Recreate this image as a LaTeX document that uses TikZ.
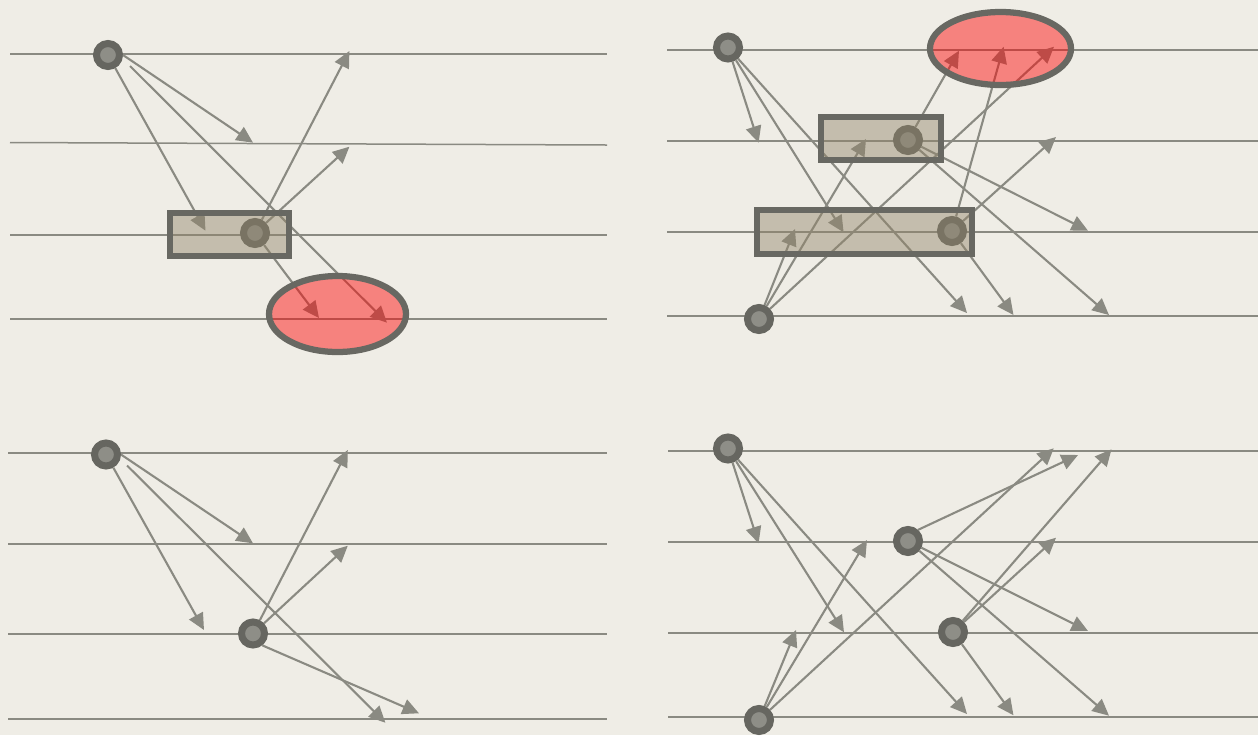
\documentclass[tikz,border=0pt]{standalone}
\usepackage{xcolor}
\usepackage{tikz}
\usetikzlibrary{arrows.meta, shapes.geometric, calc}

\definecolor{paper}{RGB}{239,237,230}
\definecolor{wire}{RGB}{138,138,130}
\definecolor{ring}{RGB}{102,102,96}
\definecolor{dot}{RGB}{142,142,135}
\definecolor{frame}{RGB}{104,104,98}
\definecolor{sand}{RGB}{145,132,104}

\tikzset{
    proc/.style={line width=0.42mm, wire},
    msg/.style={line width=0.42mm, wire, -{Triangle[length=3.3mm, width=3.1mm]}},
    event/.style={circle, draw=ring, fill=dot, line width=1.4mm, minimum size=4.6mm, inner sep=0pt},
    cut/.style={rectangle, draw=frame, fill=sand, fill opacity=0.45, line width=1.2mm, inner sep=0pt},
    fault/.style={ellipse, draw=frame, fill=red, fill opacity=0.45, line width=1.25mm, inner sep=0pt},
}

\begin{document}
\begin{tikzpicture}[x=0.2mm, y=-0.2mm]

    % 1. Paper
    \fill[paper] (0,0) rectangle (1258,735);
    \useasboundingbox (0,0) rectangle (1258,735);

    % 2. Process lines (four per panel)
    \draw[proc] (10,54) -- (607,54);
    \draw[proc, line width=0.3mm] (10,142.5) -- (607,145);
    \draw[proc] (10,235) -- (607,235);
    \draw[proc] (10,319) -- (607,319);

    \draw[proc] (667,50) -- (1258,50);
    \draw[proc] (667,141) -- (1258,141);
    \draw[proc] (667,232) -- (1258,232);
    \draw[proc] (667,316) -- (1258,316);

    \draw[proc] (8,453) -- (607,453);
    \draw[proc] (8,544) -- (607,544);
    \draw[proc] (8,634) -- (607,634);
    \draw[proc] (8,719) -- (607,719);

    \draw[proc] (668,451) -- (1258,451);
    \draw[proc] (668,542) -- (1258,542);
    \draw[proc] (668,633) -- (1258,633);
    \draw[proc] (668,717) -- (1258,717);

    % 3. Events
    \node[event] (a) at (108,55) {};
    \node[event] (b) at (255,233) {};

    \node[event] (c) at (728,47.5) {};
    \node[event] (d) at (908,140) {};
    \node[event] (e) at (952,231) {};
    \node[event] (f) at (759,319) {};

    \node[event] (g) at (106,454.5) {};
    \node[event] (h) at (253,633.5) {};

    \node[event] (i) at (728,448.5) {};
    \node[event] (j) at (908,541) {};
    \node[event] (k) at (953,632) {};
    \node[event] (l) at (759,720) {};

    % 4. Message receive points
    \coordinate (a1) at (253,142.7);
    \coordinate (a2) at (205.5,230.7);
    \coordinate (a3) at (387,322.7);
    \coordinate (b1) at (349.4,51);
    \coordinate (b2) at (349.4,146.7);
    \coordinate (b3) at (319,318);

    \coordinate (c1) at (758.6,142.7);
    \coordinate (c2) at (843.6,232.3);
    \coordinate (c3) at (967,313);
    \coordinate (d1) at (959,50.7);
    \coordinate (d2) at (1088,230.7);
    \coordinate (d3) at (1109,315);
    \coordinate (e1) at (1003.6,46.7);
    \coordinate (e2) at (1056,137);
    \coordinate (e3) at (1013.5,315);
    \coordinate (f1) at (795,229);
    \coordinate (f2) at (866,139);
    \coordinate (f3) at (1054,46.7);

    \coordinate (g1) at (253,543.3);
    \coordinate (g2) at (204,630);
    \coordinate (g3) at (385.4,722.7);
    \coordinate (h1) at (347.8,450);
    \coordinate (h2) at (347.8,545.7);
    \coordinate (h3) at (419,713.3);

    \coordinate (i1) at (758.6,543.3);
    \coordinate (i2) at (844,632.3);
    \coordinate (i3) at (967,714);
    \coordinate (j1) at (1078,455);
    \coordinate (j2) at (1088,631);
    \coordinate (j3) at (1109,715.7);
    \coordinate (k1) at (1111.5,449.3);
    \coordinate (k2) at (1056,537.7);
    \coordinate (k3) at (1013.5,715.3);
    \coordinate (l1) at (796,630);
    \coordinate (l2) at (867,540);
    \coordinate (l3) at (1053.8,448.3);

    % 5. Messages
    \draw[msg] (a.east) -- (a1);
    \draw[msg] (a) -- (a2);
    \draw[msg] ($(a)+(22,11)$) -- (a3);
    \draw[msg] (b) -- (b1);
    \draw[msg] (b) -- (b2);
    \draw[msg] (b) -- (b3);

    \draw[msg] (c) -- (c1);
    \draw[msg] (c) -- (c2);
    \draw[msg] (c) -- (c3);
    \draw[msg] (d) -- (d1);
    \draw[msg] (d) -- (d2);
    \draw[msg] (d) -- (d3);
    \draw[msg] (e) -- (e1);
    \draw[msg] (e) -- (e2);
    \draw[msg] (e) -- (e3);
    \draw[msg] (f) -- (f1);
    \draw[msg] (f) -- (f2);
    \draw[msg] (f) -- (f3);

    \draw[msg] (g.east) -- (g1);
    \draw[msg] (g) -- (g2);
    \draw[msg] ($(g)+(21,11)$) -- (g3);
    \draw[msg] (h) -- (h1);
    \draw[msg] (h) -- (h2);
    \draw[msg] (h.-52) -- (h3);

    \draw[msg] (i) -- (i1);
    \draw[msg] (i) -- (i2);
    \draw[msg] (i) -- (i3);
    \draw[msg] (j.48) -- (j1);
    \draw[msg] (j) -- (j2);
    \draw[msg] (j) -- (j3);
    \draw[msg] (k) -- (k1);
    \draw[msg] (k) -- (k2);
    \draw[msg] (k) -- (k3);
    \draw[msg] (l) -- (l1);
    \draw[msg] (l) -- (l2);
    \draw[msg] (l) -- (l3);

    % 6. Cuts and faulty regions on top
    \node[cut, minimum width=23.8mm, minimum height=8.6mm] (cutA) at (229.5,234.5) {};
    \node[fault, minimum width=27.4mm, minimum height=15.2mm] (badA) at (337.5,314) {};

    \node[cut, minimum width=24mm, minimum height=8.6mm] (cutB) at (881,138.5) {};
    \node[cut, minimum width=43mm, minimum height=8.8mm] (cutC) at (864.5,232) {};
    \node[fault, minimum width=28.2mm, minimum height=14.6mm] (badB) at (1000.5,48.5) {};

\end{tikzpicture}
\end{document}
